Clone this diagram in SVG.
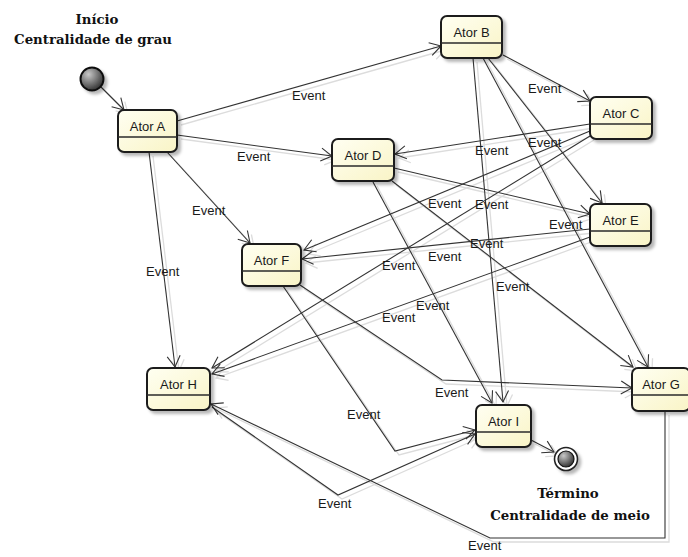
<svg xmlns="http://www.w3.org/2000/svg" xmlns:xlink="http://www.w3.org/1999/xlink" width="688" height="557" viewBox="0 0 688 557">
  <style>
    .state rect.body { fill: url(#stateFill); stroke: #1e1e1e; stroke-width: 2; filter: url(#dropShadow); }
    .state line { stroke: #2a2a2a; stroke-width: 1.3; }
    .state text { font-family: "Liberation Sans", Arial, sans-serif; font-size: 13px; fill: #1a1a1a; text-anchor: middle; }
    .note { font-family: "DejaVu Serif", "Liberation Serif", serif; font-size: 13.3px; font-weight: bold; fill: #111; text-anchor: middle; }
    .wire-shade { fill: none; stroke: #dcdcdc; stroke-width: 1.3; marker-end: url(#ahShade); }
    .wire-ink { fill: none; stroke: #333; stroke-width: 1.1; marker-end: url(#ah); }
    .edge-labels text { font-family: "Liberation Sans", Arial, sans-serif; font-size: 13px; fill: #1a1a1a; }
  </style>
  <defs>
    <linearGradient id="stateFill" x1="0" y1="0" x2="1" y2="1">
      <stop offset="0" stop-color="#fffff2"/>
      <stop offset="1" stop-color="#f9f4c6"/>
    </linearGradient>
    <radialGradient id="initialFill" cx="0.35" cy="0.3" r="0.75">
      <stop offset="0" stop-color="#c8c8c8"/>
      <stop offset="1" stop-color="#2e2e2e"/>
    </radialGradient>
    <filter id="dropShadow" x="-20%" y="-20%" width="150%" height="150%">
      <feDropShadow dx="3" dy="3" stdDeviation="1.6" flood-color="#000" flood-opacity="0.28"/>
    </filter>
    <marker id="ah" viewBox="-13 -8 15 16" refX="0" refY="0" markerWidth="15" markerHeight="16" orient="auto" markerUnits="userSpaceOnUse">
      <path d="M-11,-6.5 L0,0 L-11,6.5" fill="none" stroke="#333" stroke-width="1.1"/>
    </marker>
    <marker id="ahShade" viewBox="-13 -8 15 16" refX="0" refY="0" markerWidth="15" markerHeight="16" orient="auto" markerUnits="userSpaceOnUse">
      <path d="M-11,-6.5 L0,0 L-11,6.5" fill="none" stroke="#dcdcdc" stroke-width="1.3"/>
    </marker>
  </defs>

  <rect width="688" height="557" fill="#fff"/>

  <!-- transitions: a light copy underneath, then the ink lines -->
  <g id="connectors">
    <use xlink:href="#wires" href="#wires" class="wire-shade" transform="translate(4,4)"/>
    <g class="wire-ink">
      <g id="wires">
        <path id="e-start-a" d="M101,87 L124,110"/>
        <path id="e-a-b" d="M177,121 L441,46"/>
        <path id="e-a-d" d="M177,135 L332,156"/>
        <path id="e-a-f" d="M167,152 L250,243"/>
        <path id="e-a-h" d="M149,152 L175,367"/>
        <path id="e-b-c" d="M503,55 L590,101"/>
        <path id="e-b-i" d="M473,58 L503,402"/>
        <path id="e-b-e" d="M488,58 L602,203"/>
        <path id="e-b-g" d="M483,58 L648,367"/>
        <path id="e-c-d" d="M590,124 L395,154"/>
        <path id="e-c-f" d="M590,131 L304,250"/>
        <path id="e-c-h" d="M590,136 L212,368"/>
        <path id="e-d-e" d="M394,168 L590,214"/>
        <path id="e-d-g" d="M392,181 L633,367"/>
        <path id="e-d-i" d="M373,182 L492,403"/>
        <path id="e-e-f" d="M590,229 L302,259"/>
        <path id="e-e-h" d="M590,237 L212,374"/>
        <path id="e-f-g" d="M300,285 L442,380 L632,388"/>
        <path id="e-f-i" d="M283,286 L395,451 L475,430"/>
        <path id="e-h-i" d="M212,407 L338,495 L475,434"/>
        <path id="e-g-h" d="M665,411 L665,538 L490,538 L211,404"/>
        <path id="e-i-end" d="M531,440 L554,452"/>
      </g>
    </g>
    <g class="edge-labels">
      <text x="292" y="100">Event</text>
      <text x="237" y="161">Event</text>
      <text x="192" y="215">Event</text>
      <text x="146" y="276">Event</text>
      <text x="528" y="93">Event</text>
      <text x="528" y="147">Event</text>
      <text x="475" y="155">Event</text>
      <text x="428" y="208">Event</text>
      <text x="475" y="209">Event</text>
      <text x="549" y="229">Event</text>
      <text x="470" y="248">Event</text>
      <text x="428" y="261">Event</text>
      <text x="382" y="270">Event</text>
      <text x="496" y="291">Event</text>
      <text x="416" y="310">Event</text>
      <text x="382" y="322">Event</text>
      <text x="435" y="397">Event</text>
      <text x="347" y="419">Event</text>
      <text x="318" y="508">Event</text>
      <text x="468" y="550">Event</text>
    </g>
  </g>

  <!-- pseudo states -->
  <g id="initial">
    <circle cx="92" cy="79" r="11.5" fill="url(#initialFill)" stroke="#111" stroke-width="2" filter="url(#dropShadow)"/>
    <text class="note" x="97" y="24">Início</text>
    <text class="note" x="93" y="44">Centralidade de grau</text>
  </g>
  <g id="final">
    <circle cx="566" cy="459" r="11.5" fill="#fff" stroke="#222" stroke-width="1.6" filter="url(#dropShadow)"/>
    <circle cx="566" cy="459" r="8" fill="url(#initialFill)" stroke="#111" stroke-width="1.2"/>
    <text class="note" x="568" y="498">Término</text>
    <text class="note" x="570" y="520">Centralidade de meio</text>
  </g>

  <!-- states -->
  <g id="ator-a" class="state">
    <rect class="body" x="118" y="110" width="59" height="42" rx="6"/>
    <line x1="118" y1="137" x2="177" y2="137"/>
    <text x="147.5" y="131">Ator A</text>
  </g>
  <g id="ator-b" class="state">
    <rect class="body" x="441" y="16" width="61" height="42" rx="6"/>
    <line x1="441" y1="43" x2="502" y2="43"/>
    <text x="471.5" y="37">Ator B</text>
  </g>
  <g id="ator-c" class="state">
    <rect class="body" x="590" y="97" width="62" height="42" rx="6"/>
    <line x1="590" y1="124" x2="652" y2="124"/>
    <text x="621" y="118">Ator C</text>
  </g>
  <g id="ator-d" class="state">
    <rect class="body" x="332" y="139" width="62" height="42" rx="6"/>
    <line x1="332" y1="166" x2="394" y2="166"/>
    <text x="363" y="160">Ator D</text>
  </g>
  <g id="ator-e" class="state">
    <rect class="body" x="590" y="204" width="61" height="42" rx="6"/>
    <line x1="590" y1="231" x2="651" y2="231"/>
    <text x="620.5" y="225">Ator E</text>
  </g>
  <g id="ator-f" class="state">
    <rect class="body" x="242" y="244" width="59" height="42" rx="6"/>
    <line x1="242" y1="271" x2="301" y2="271"/>
    <text x="271.5" y="265">Ator F</text>
  </g>
  <g id="ator-g" class="state">
    <rect class="body" x="632" y="368" width="58" height="43" rx="6"/>
    <line x1="632" y1="395" x2="690" y2="395"/>
    <text x="661" y="389">Ator G</text>
  </g>
  <g id="ator-h" class="state">
    <rect class="body" x="147" y="368" width="63" height="42" rx="6"/>
    <line x1="147" y1="395" x2="210" y2="395"/>
    <text x="178.5" y="389">Ator H</text>
  </g>
  <g id="ator-i" class="state">
    <rect class="body" x="476" y="405" width="55" height="42" rx="6"/>
    <line x1="476" y1="432" x2="531" y2="432"/>
    <text x="503.5" y="426">Ator I</text>
  </g>
</svg>
